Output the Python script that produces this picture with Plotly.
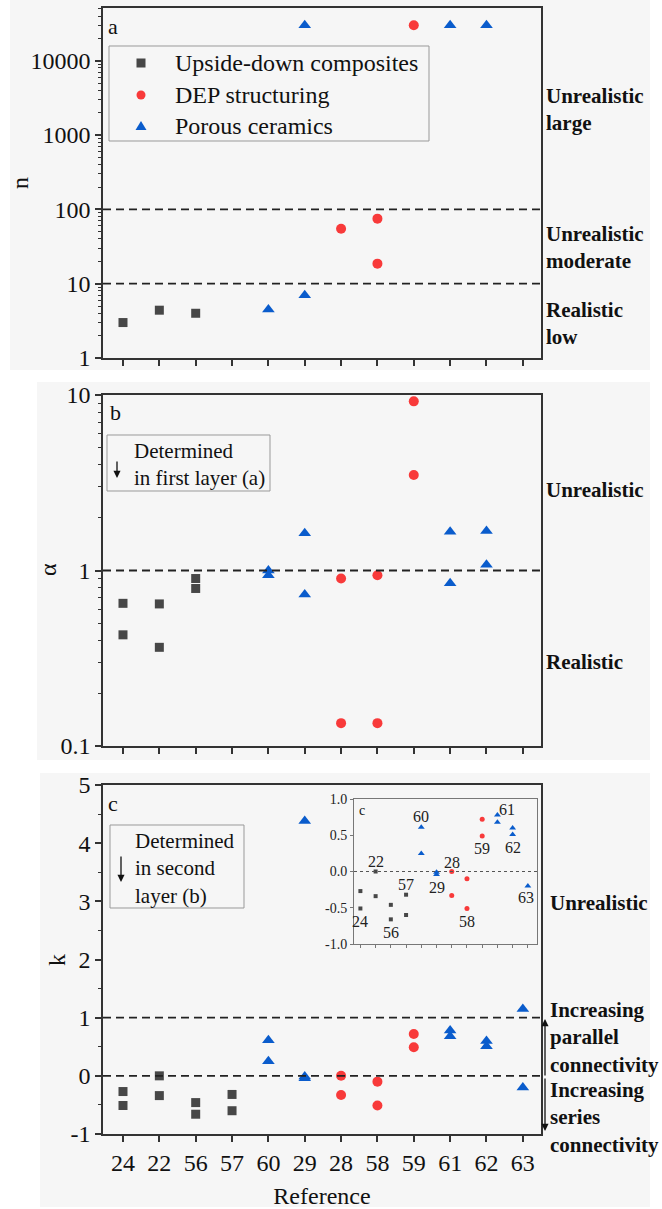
import math
import plotly.graph_objects as go

# ---------------- data ----------------
refs = ["24", "22", "56", "57", "60", "29", "28", "58", "59", "61", "62", "63"]
series_names = ["Upside-down composites", "DEP structuring", "Porous ceramics"]

# panel a : n
n_sq_x = ["24", "22", "56"]
n_sq = [3.0, 4.4, 4.0]
n_ci_x = ["28", "58", "58", "59"]
n_ci = [55, 75, 18.6, 30000]
n_tr_x = ["60", "29", "29", "61", "62"]
n_tr = [4.5, 7.0, 30000, 30000, 30000]

# panel b : alpha
a_sq_x = ["24", "24", "22", "22", "56", "56"]
a_sq = [0.65, 0.43, 0.645, 0.365, 0.90, 0.79]
a_ci_x = ["28", "28", "58", "58", "59", "59"]
a_ci = [0.90, 0.135, 0.94, 0.135, 9.2, 3.5]
a_tr_x = ["60", "60", "29", "29", "61", "61", "62", "62"]
a_tr = [1.0, 0.94, 1.63, 0.73, 1.66, 0.845, 1.68, 1.08]

# panel c : k
k_sq_x = ["24", "24", "22", "22", "56", "56", "57", "57"]
k_sq = [-0.27, -0.51, 0.0, -0.34, -0.46, -0.66, -0.32, -0.60]
k_ci_x = ["28", "28", "58", "58", "59", "59"]
k_ci = [0.0, -0.33, -0.10, -0.51, 0.72, 0.49]
k_tr_x = ["60", "60", "29", "29", "29", "61", "61", "62", "62", "63", "63"]
k_tr = [0.61, 0.25, 4.38, -0.01, -0.04, 0.78, 0.68, 0.60, 0.51, 1.15, -0.20]

# tick labels
n_ticks = [1, 10, 100, 1000, 10000]
n_ticktext = ["1", "10", "100", "1000", "10000"]
a_ticks = [0.1, 1, 10]
a_ticktext = ["0.1", "1", "10"]
k_ticks = [-1, 0, 1, 2, 3, 4, 5]
k_ticktext = ["-1", "0", "1", "2", "3", "4", "5"]
inset_ticks = [-1, -0.5, 0, 0.5, 1]
inset_ticktext = ["-1.0", "-0.5", "0.0", "0.5", "1.0"]

# ---------------- styling / layout helpers ----------------
W, H = 662, 1209
def px(x):
    return x / W
def py(y):
    return 1 - y / H

FONT = "Liberation Serif, Times New Roman, serif"
GRAY, RED, BLUE = "#474747", "#f83a3a", "#0a5ccc"
AX = "#333333"

fig = go.Figure()

def add(xs, ys, name, color, symbol, size, xa, ya):
    fig.add_trace(go.Scatter(
        x=xs, y=ys, mode="markers", name=name,
        marker=dict(color=color, symbol=symbol, size=size, line=dict(width=0)),
        xaxis=xa, yaxis=ya, showlegend=False, hoverinfo="skip"))

add(n_sq_x, n_sq, series_names[0], GRAY, "square", 9, "x", "y")
add(n_ci_x, n_ci, series_names[1], RED, "circle", 10, "x", "y")
add(n_tr_x, n_tr, series_names[2], BLUE, "triangle-up", 11, "x", "y")

add(a_sq_x, a_sq, series_names[0], GRAY, "square", 9, "x2", "y2")
add(a_ci_x, a_ci, series_names[1], RED, "circle", 10, "x2", "y2")
add(a_tr_x, a_tr, series_names[2], BLUE, "triangle-up", 11, "x2", "y2")

add(k_sq_x, k_sq, series_names[0], GRAY, "square", 9, "x3", "y3")
add(k_ci_x, k_ci, series_names[1], RED, "circle", 10, "x3", "y3")
add(k_tr_x, k_tr, series_names[2], BLUE, "triangle-up", 11, "x3", "y3")

# inset
add(k_sq_x, k_sq, series_names[0], GRAY, "square", 4, "x4", "y4")
add(k_ci_x, k_ci, series_names[1], RED, "circle", 5, "x4", "y4")
add(k_tr_x, k_tr, series_names[2], BLUE, "triangle-up", 6, "x4", "y4")

tickfont = dict(family=FONT, size=24, color="#111")
xdom = [px(103), px(541)]

def xaxis(anchor, labels, title=None):
    d = dict(type="category", categoryorder="array", categoryarray=refs,
             range=[-0.55, 11.5], domain=xdom, anchor=anchor, automargin=False,
             showline=True, linecolor=AX, linewidth=1.5, mirror=True,
             ticks="outside", ticklen=6, tickwidth=1.5, tickcolor=AX,
             showgrid=False, zeroline=False, showticklabels=labels,
             tickfont=tickfont)
    if title:
        d["title"] = dict(text=title, font=dict(family=FONT, size=24, color="#111"), standoff=14)
    return d

def minor_log(lo, hi):
    vals = []
    for e in range(lo, hi):
        for m in range(2, 10):
            vals.append(m * 10 ** e)
    return vals

def yaxis(anchor, dom, **kw):
    d = dict(anchor=anchor, domain=dom, automargin=False, showline=True, linecolor=AX, linewidth=1.5,
             mirror=True, ticks="outside", ticklen=6, tickwidth=1.5, tickcolor=AX,
             showgrid=False, zeroline=False, tickfont=tickfont)
    d.update(kw)
    return d

fig.update_layout(
    width=W, height=H, margin=dict(l=0, r=0, t=0, b=0, autoexpand=False),
    paper_bgcolor="white", plot_bgcolor="rgba(0,0,0,0)",
    font=dict(family=FONT, color="#111"),
    showlegend=False,
    xaxis=xaxis("y", False),
    xaxis2=xaxis("y2", False),
    xaxis3=xaxis("y3", True, "Reference"),
    yaxis=yaxis("x", [py(358), py(8)], type="log", range=[0, 4.71],
                tickmode="array", tickvals=n_ticks, ticktext=n_ticktext,
                minor=dict(tickmode="array", tickvals=minor_log(0, 5), ticks="outside",
                           ticklen=3, tickwidth=1, tickcolor=AX)),
    yaxis2=yaxis("x2", [py(746), py(395)], type="log", range=[-1, 1],
                 tickmode="array", tickvals=a_ticks, ticktext=a_ticktext,
                 minor=dict(tickmode="array", tickvals=minor_log(-1, 1), ticks="outside",
                            ticklen=3, tickwidth=1, tickcolor=AX)),
    yaxis3=yaxis("x3", [py(1134), py(785)], range=[-1, 5],
                 tickmode="array", tickvals=k_ticks, ticktext=k_ticktext,
                 minor=dict(dtick=0.5, ticks="outside", ticklen=3, tickwidth=1, tickcolor=AX)),
    xaxis4=dict(type="category", categoryorder="array", categoryarray=refs,
                range=[-0.42, 11.6], domain=[px(354), px(537)], anchor="y4", automargin=False,
                showline=True, linecolor="#777", linewidth=1, mirror=True,
                ticks="outside", ticklen=3, tickwidth=1, tickcolor="#777",
                showticklabels=False, showgrid=False, zeroline=False),
    yaxis4=dict(range=[-1, 1], domain=[py(944), py(799)], anchor="x4", automargin=False,
                showline=True, linecolor="#777", linewidth=1, mirror=True,
                ticks="outside", ticklen=3, tickwidth=1, tickcolor="#777",
                tickmode="array", tickvals=inset_ticks, ticktext=inset_ticktext,
                tickfont=dict(family=FONT, size=14, color="#222"),
                showgrid=False, zeroline=False),
)

shapes = []
# panel backgrounds
for (x0, y0, x1, y1) in [(10, 0, 650, 370), (37, 382, 650, 760), (40, 773, 650, 1207)]:
    shapes.append(dict(type="rect", xref="paper", yref="paper", x0=px(x0), x1=px(x1),
                       y0=py(y1), y1=py(y0), fillcolor="#f6f6f6", line=dict(width=0), layer="below"))
# dashed reference lines
def hline(yref, xref, yv, color="#222", width=1.8, dash="8px,5px"):
    shapes.append(dict(type="line", xref=xref + " domain", yref=yref, x0=0, x1=1, y0=yv, y1=yv,
                       line=dict(color=color, width=width, dash=dash)))
hline("y", "x", 10)
hline("y", "x", 100)
hline("y2", "x2", 1)
hline("y3", "x3", 0)
hline("y3", "x3", 1)
hline("y4", "x4", 0, color="#555", width=1, dash="3px,3px")
# note boxes + legend box
for (x0, y0, x1, y1) in [(107, 435, 270, 491), (110, 825, 244, 908), (109, 46, 429, 141)]:
    shapes.append(dict(type="rect", xref="paper", yref="paper", x0=px(x0), x1=px(x1),
                       y0=py(y1), y1=py(y0), line=dict(color="#999", width=1)))
# legend keys
kx = 141
shapes.append(dict(type="rect", xref="paper", yref="paper", x0=px(kx - 4.5), x1=px(kx + 4.5),
                   y0=py(63 + 4.5), y1=py(63 - 4.5), fillcolor=GRAY, line=dict(width=0)))
shapes.append(dict(type="circle", xref="paper", yref="paper", x0=px(kx - 4.5), x1=px(kx + 4.5),
                   y0=py(95 + 4.5), y1=py(95 - 4.5), fillcolor=RED, line=dict(width=0)))
shapes.append(dict(type="path", xref="paper", yref="paper",
                   path="M %f %f L %f %f L %f %f Z" % (px(kx - 5.5), py(130), px(kx + 5.5), py(130), px(kx), py(121)),
                   fillcolor=BLUE, line=dict(width=0)))
fig.update_layout(shapes=shapes)

ann = []
def text(x, y, t, size=21, bold=False, anchor="left", angle=0):
    ann.append(dict(xref="paper", yref="paper", x=px(x), y=py(y), text=("<b>%s</b>" % t) if bold else t,
                    showarrow=False, xanchor=anchor, yanchor="middle", align="left", borderpad=0,
                    textangle=angle, font=dict(family=FONT, size=size, color="#111")))

# y-axis titles
text(20, 183, "n", size=24, anchor="center", angle=-90)
text(48, 570, "α", size=24, anchor="center", angle=-90)
text(57, 960, "k", size=24, anchor="center", angle=-90)

# legend texts
for name, yy in zip(series_names, [63, 95, 126]):
    text(174, yy, name, size=24)

# right-hand region labels
text(545, 110, "Unrealistic<br>large", bold=True)
text(545, 248, "Unrealistic<br>moderate", bold=True)
text(545, 324, "Realistic<br>low", bold=True)
text(545, 490, "Unrealistic", bold=True)
text(545, 662, "Realistic", bold=True)
text(549, 903, "Unrealistic", bold=True)
text(549, 1037, "Increasing<br>parallel<br>connectivity", bold=True)
text(549, 1117, "Increasing<br>series<br>connectivity", bold=True)
# panel letters
text(107, 27, "a", size=22)
text(109, 412, "b", size=22)
text(107, 803, "c", size=22)
text(358, 810, "c", size=14)
# note texts
text(133, 464, "Determined<br>in first layer (a)")
text(134, 868, "Determined<br>in second<br>layer (b)")

def arrow_paper(x, ytip, ay):
    ann.append(dict(xref="paper", yref="paper", x=px(x), y=py(ytip), ax=0, ay=ay, text="",
                    showarrow=True, arrowhead=2, arrowsize=1.1, arrowwidth=1.3, arrowcolor="#111"))
arrow_paper(117, 478, -18)
arrow_paper(121, 882, -27)
arrow_paper(545, 1019, 58)
arrow_paper(545, 1131, -54)

def arrow_data(xa, ya, x, y, ay):
    ann.append(dict(xref=xa, yref=ya, x=x, y=y, ax=0, ay=ay, text="",
                    showarrow=True, arrowhead=2, arrowsize=1.1, arrowwidth=1.3, arrowcolor="#111"))
arrow_data("x2", "y2", "28", math.log10(0.98), -29)
arrow_data("x2", "y2", "58", math.log10(1.0), -30)
arrow_data("x3", "y3", "59", 0.85, -25)

# inset point labels (label text from refs, positions in inset coordinates)
inset_label_pos = [(0, -0.69), (1, 0.14), (2, -0.84), (3, -0.18), (4, 0.76), (5, -0.22),
                   (6, 0.13), (7, -0.69), (8, 0.32), (9.6, 0.86), (10, 0.33), (10.9, -0.36)]
for r, (xi, yi) in zip(refs, inset_label_pos):
    ann.append(dict(xref="x4", yref="y4", x=xi, y=yi, text=r, showarrow=False,
                    font=dict(family=FONT, size=16, color="#222")))

fig.update_layout(annotations=ann)
fig.write_html("out.html", config={"displayModeBar": False},
               post_script="document.body.style.margin='0';document.body.style.overflow='hidden';")
